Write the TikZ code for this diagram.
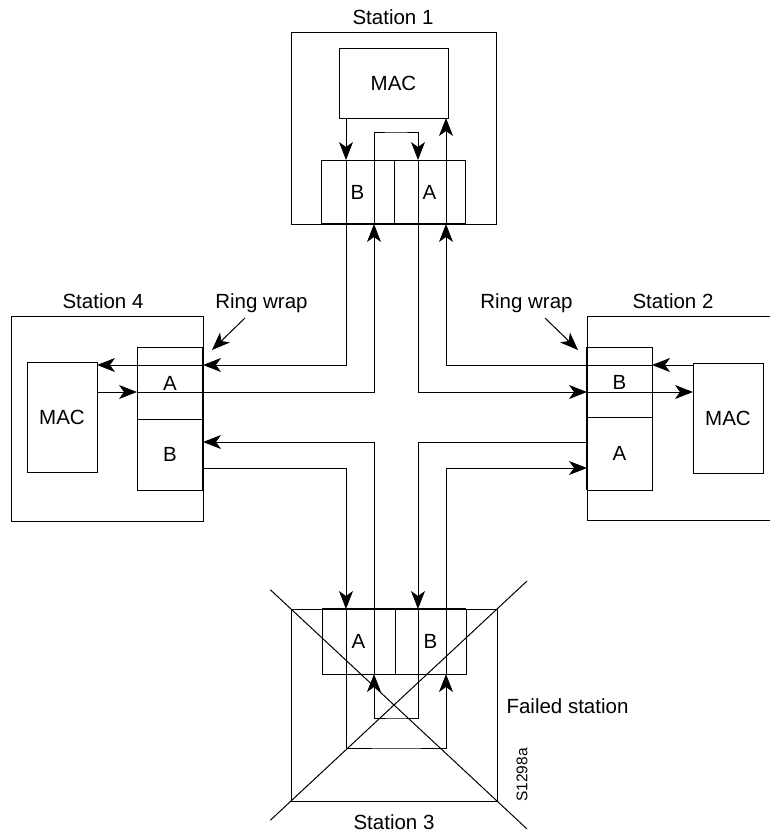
\documentclass[tikz,border=0pt]{standalone}
\usepackage{fontspec}
\setmainfont{Liberation Sans}
\usetikzlibrary{arrows.meta,calc}
\begin{document}
\begin{tikzpicture}[x=1pt,y=-1pt,
	box/.style={draw,line width=0.8pt,inner sep=0pt,outer sep=0pt},
	flow/.style={line width=1pt},
	arr/.style={line width=1pt,-{Stealth[length=18pt,width=14pt,inset=5pt]}},
	wrap/.style={line width=2.2pt},
	font=\fontsize{20.5}{24}\selectfont]
	\clip (0,0) rectangle (770,837);

	% station 1
	\node[box,minimum width=205,minimum height=192] (s1) at (393.5,128) {};
	\node[box,minimum width=109,minimum height=70] (mac1) at (393.5,83) {MAC};
	\node[box,minimum width=73,minimum height=64] (s1B) at (357.5,192) {B};
	\node[box,minimum width=71,minimum height=64] (s1A) at (429.5,192) {A};
	\node (l1) at (393,17) {Station 1};

	% station 4
	\node[box,minimum width=192,minimum height=205] (s4) at (107,418.5) {};
	\node[box,minimum width=70,minimum height=110] (mac4) at (62,417) {MAC};
	\node[box,minimum width=66,minimum height=72] (s4A) at (170,383) {A};
	\node[box,minimum width=66,minimum height=71] (s4B) at (170,454.5) {B};
	\node (l4) at (103,301) {Station 4};

	% station 2
	\node[box,minimum width=192,minimum height=204] (s2) at (683,418) {};
	\node[box,minimum width=70,minimum height=110] (mac2) at (728,418) {MAC};
	\node[box,minimum width=65,minimum height=70] (s2B) at (619.5,382) {B};
	\node[box,minimum width=65,minimum height=73] (s2A) at (619.5,453.5) {A};
	\node (l2) at (673,301) {Station 2};

	% station 3
	\node[box,minimum width=206,minimum height=192] (s3) at (394,705) {};
	\node[box,minimum width=73,minimum height=65] (s3A) at (358.5,641.5) {A};
	\node[box,minimum width=71,minimum height=65] (s3B) at (430.5,641.5) {B};
	\node (l3) at (394,822) {Station 3};
	\node[anchor=west] (fail) at (503,706) {Failed station};
	\node[rotate=90,font=\fontsize{15.5}{18}\selectfont] (code) at (522,775) {S1298a};

	\node (rw4) at (261.5,303) {Ring wrap};
	\node (rw2) at (526.5,303) {Ring wrap};
	\coordinate (rw4t) at (245,318);
	\coordinate (rw2t) at (545,318);

	% ring wrap edges
	\draw[wrap] (s1B.south west) -- (s1A.south east);
	\draw[wrap] (s4A.north east) -- (s4B.south east);
	\draw[wrap] (s2B.north west) -- (s2A.south west);
	\draw[wrap] (s3A.north west) -- (s3B.north east);

	% lanes
	\coordinate (nw1) at (346,365);
	\coordinate (nw2) at (374,392);
	\coordinate (ne2) at (418,392);
	\coordinate (ne1) at (446,365);
	\coordinate (sw2) at (374,442);
	\coordinate (sw1) at (346,468);
	\coordinate (se2) at (418,442);
	\coordinate (se1) at (446,468);
	\coordinate (loop1) at (396,133);
	\coordinate (loop3a) at (396,748);
	\coordinate (loop3b) at (396,718);

	% primary ring
	\draw[arr] (mac1.south -| nw1) -- (s1B.north -| nw1);
	\draw[arr] (s1B.north -| nw1) -- (nw1) -- (s4A.east |- nw1);
	\draw[arr] (s4A.east |- nw1) -- (mac4.east |- nw1);
	\draw[arr] (mac4.east |- nw2) -- (s4A.west |- nw2);
	\draw[arr] (s4A.west |- nw2) -- (nw2) -- (s1B.south -| nw2);
	\draw[arr] (s1B.south -| nw2) |- (loop1) -| (s1A.north -| ne2);
	\draw[arr] (s1A.north -| ne2) -- (ne2) -- (s2B.west |- ne2);
	\draw[arr] (s2B.west |- ne2) -- (mac2.west |- ne2);
	\draw[arr] (mac2.west |- ne1) -- (s2B.east |- ne1);
	\draw[arr] (s2B.east |- ne1) -- (ne1) -- (s1A.south -| ne1);
	\draw[arr] (s1A.south -| ne1) -- (mac1.south -| ne1);

	% secondary ring
	\draw[arr] (s4B.east |- sw1) -- (sw1) -- (s3A.north -| sw1);
	\draw[arr] (s3A.north -| sw1) |- (loop3a) -| (s3B.south -| se1);
	\draw[arr] (s3B.south -| se1) -- (se1) -- (s2A.west |- se1);
	\draw[arr] (s2A.west |- se2) -- (se2) -- (s3B.north -| se2);
	\draw[arr] (s3B.north -| se2) |- (loop3b) -| (s3A.south -| sw2);
	\draw[arr] (s3A.south -| sw2) -- (sw2) -- (s4B.east |- sw2);

	% failed station cross
	\draw[flow] ($(s3.north west)!-0.1!(s3.south east)$) -- ($(s3.north west)!1.146!(s3.south east)$);
	\draw[flow] ($(s3.north east)!-0.146!(s3.south west)$) -- ($(s3.north east)!1.1!(s3.south west)$);

	\draw[arr] (rw4t) -- ([shift={(9,3)}]s4A.north east);
	\draw[arr] (rw2t) -- ([shift={(-9,3)}]s2B.north west);
\end{tikzpicture}
\end{document}
